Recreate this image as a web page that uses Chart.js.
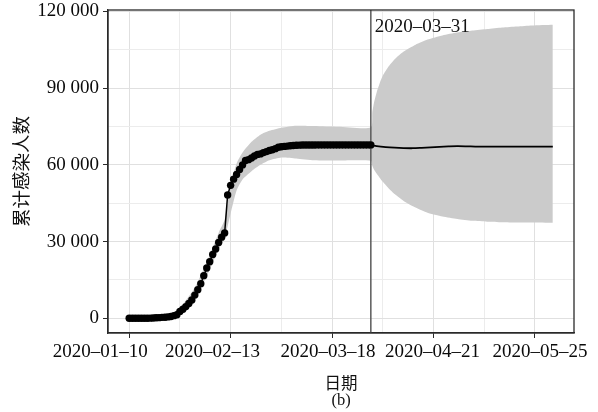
<!DOCTYPE html>
<html>
<head>
<meta charset="utf-8">
<script src="https://cdn.jsdelivr.net/npm/chart.js@4/dist/chart.umd.min.js"></script>
<style>
html,body{margin:0;padding:0;background:#fff;}
#wrap{width:598px;height:412px;}
</style>
</head>
<body>
<div id="wrap"><canvas id="c" width="598" height="412"></canvas></div>
<script>
// ---- data (x = days since 2020-01-10) ----
const startDate = '2020-01-10';
// observed cumulative infections, one value per day from 2020-01-10 to 2020-03-31
const obsCases = [
  41, 41, 41, 41, 41, 41, 45, 62, 121, 198,
  270, 375, 444, 549, 729, 1052, 1423, 2714, 3554, 4586,
  5806, 7153, 9074, 11177, 13522, 16678, 19665, 22112, 24953, 27100,
  29631, 31728, 33366, 48206, 51986, 54406, 56249, 58182, 59989, 61682,
  62031, 62662, 63454, 64084, 64287, 64786, 65187, 65596, 65914, 66337,
  66907, 67103, 67217, 67332, 67466, 67592, 67666, 67707, 67743, 67760,
  67773, 67781, 67786, 67790, 67794, 67798, 67799, 67799, 67800, 67800,
  67800, 67800, 67800, 67800, 67801, 67801, 67801, 67801, 67801, 67801,
  67801, 67802
];
// projected cumulative infections after 2020-03-31
const projDays  = [81, 83, 86, 89, 92, 95, 98, 101, 104, 107, 110, 113, 116, 120, 125, 130, 135, 142];
const projCases = [67802, 67350, 66950, 66700, 66550, 66500, 66650, 66850, 67050, 67200, 67300, 67250, 67150, 67100, 67100, 67100, 67100, 67100];
// uncertainty band
const bandDays = [0, 8, 14, 18, 22, 26, 30, 32, 34, 36, 38, 41, 44, 47, 51, 56, 62, 70, 81,
                  81.5, 82, 83, 84, 85, 87, 89, 92, 96, 100, 105, 110, 115, 120, 125, 130, 135, 142];
const bandLow  = [-100, -100, 200, 2800, 7800, 16500, 27000, 31500, 41000, 50000, 54300, 57500, 60000, 61800, 62900, 62500, 61800, 61700, 61600,
                  59600, 58300, 56500, 54900, 53400, 50800, 48600, 45900, 43300, 41300, 39800, 38800, 38100, 37800, 37600, 37500, 37500, 37400];
const bandHigh = [300, 400, 1500, 5500, 12000, 22000, 33500, 38500, 52000, 60500, 64800, 69000, 71800, 73300, 74500, 75300, 75200, 74900, 74600,
                  80500, 84000, 88500, 92000, 94800, 98500, 101300, 104300, 107000, 109000, 110600, 111700, 112500, 113100, 113700, 114100, 114500, 114800];
// cutoff date marker
const cutoffDay = 81;
const cutoffLabel = '2020–03–31';
const cutoffLabelValue = 113900;
// axes
const xTickDays = [0, 34, 68, 102, 136];
const xTickLabels = ['2020–01–10', '2020–02–13', '2020–03–18', '2020–04–21', '2020–05–25'];
const xMinorDays = [17, 51, 85, 119];
const yTickValues = [0, 30000, 60000, 90000, 120000];
const yTickLabels = ['0', '30 000', '60 000', '90 000', '120 000'];
const yMinorValues = [15000, 45000, 75000, 105000];
const xMin = -7.1, xMax = 149.1;
const yMin = -5740, yMax = 120540;
const yTitle = '累计感染人数';
const xTitle = ['日期', '(b)'];

// ---- layout-only constants ----
const xLabelNudge = [-29, -18, -4, -1, 5];   // horizontal label offsets seen in the original typesetting

// ---- build ----
const obsPts = obsCases.map((v, i) => ({x: i, y: v}));
const projPts = projDays.map((d, i) => ({x: d, y: projCases[i]}));
const hiPts = bandDays.map((d, i) => ({x: d, y: bandHigh[i]}));
const loPts = bandDays.map((d, i) => ({x: d, y: bandLow[i]}));
const vPts = [{x: cutoffDay, y: yMin}, {x: cutoffDay, y: yMax}];

const xMajor = new Set(xTickDays);
const yMajor = new Set(yTickValues);
const serif = "'Liberation Serif', 'Times New Roman', 'Noto Sans CJK SC', serif";

const framePlugin = {
  id: 'frame',
  beforeDraw(chart) {
    const items = chart.scales.x.getLabelItems();
    items.forEach(it => {
      const k = xTickLabels.indexOf(it.label);
      if (k >= 0 && !it._nudged) {
        it.options.translation[0] += xLabelNudge[k];
        it._nudged = true;
      }
    });
  },
  afterDraw(chart) {
    const {ctx, chartArea: a, scales} = chart;
    ctx.save();
    ctx.strokeStyle = '#2a2a2a';
    ctx.lineWidth = 1.3;
    ctx.strokeRect(a.left, a.top, a.right - a.left, a.bottom - a.top);
    ctx.fillStyle = '#111';
    ctx.font = "19px " + serif;
    ctx.textAlign = 'left';
    ctx.textBaseline = 'middle';
    ctx.fillText(cutoffLabel, scales.x.getPixelForValue(cutoffDay) + 4, scales.y.getPixelForValue(cutoffLabelValue));
    ctx.restore();
  }
};

new Chart(document.getElementById('c'), {
  type: 'line',
  data: {
    datasets: [
      {data: obsPts, borderColor: '#000', borderWidth: 1.5, pointRadius: 3.7, pointBackgroundColor: '#000',
       pointBorderWidth: 0, tension: 0, order: 0},
      {data: projPts, borderColor: '#000', borderWidth: 1.8, pointRadius: 0, tension: 0.3, order: 1},
      {data: vPts, borderColor: '#5a5a5a', borderWidth: 1.5, pointRadius: 0, order: 2},
      {data: hiPts, borderWidth: 0, borderColor: 'rgba(0,0,0,0)', pointRadius: 0, tension: 0.2,
       backgroundColor: '#cbcbcb', fill: '+1', order: 3},
      {data: loPts, borderWidth: 0, borderColor: 'rgba(0,0,0,0)', pointRadius: 0, tension: 0.2, fill: false, order: 4}
    ]
  },
  options: {
    responsive: false,
    animation: false,
    devicePixelRatio: 1,
    layout: {padding: {top: 10, right: 24, left: 0, bottom: 0}},
    plugins: {legend: {display: false}, tooltip: {enabled: false}},
    scales: {
      x: {
        type: 'linear', min: xMin, max: xMax,
        afterBuildTicks: ax => { ax.ticks = [...xTickDays, ...xMinorDays].sort((a, b) => a - b).map(v => ({value: v})); },
        afterFit: s => { s.height = 79; s.paddingLeft = 0; s.paddingRight = 0; },
        ticks: {
          autoSkip: false, maxRotation: 0, padding: 3, color: '#0a0a0a',
          font: {family: serif, size: 19},
          callback: v => xMajor.has(v) ? xTickLabels[xTickDays.indexOf(v)] : ''
        },
        grid: {
          color: c => (c.tick && xMajor.has(c.tick.value)) ? '#e0e0e0' : '#ececec',
          lineWidth: 1, tickLength: 5,
          tickColor: c => (c.tick && xMajor.has(c.tick.value)) ? '#2a2a2a' : 'rgba(0,0,0,0)'
        },
        border: {display: true, color: '#2a2a2a', width: 1.3},
        title: {display: true, text: xTitle, color: '#111', font: {family: serif, size: 16.5, lineHeight: 0.97},
                padding: {top: 0, bottom: 3}}
      },
      y: {
        type: 'linear', min: yMin, max: yMax,
        afterBuildTicks: ax => { ax.ticks = [...yTickValues, ...yMinorValues].sort((a, b) => a - b).map(v => ({value: v})); },
        afterFit: s => { s.width = 108; s.paddingTop = 0; s.paddingBottom = 0; },
        ticks: {
          autoSkip: false, padding: 4, color: '#0a0a0a',
          font: {family: serif, size: 19},
          callback: v => yMajor.has(v) ? yTickLabels[yTickValues.indexOf(v)] : ''
        },
        grid: {
          color: c => (c.tick && yMajor.has(c.tick.value)) ? '#e0e0e0' : '#ececec',
          lineWidth: 1, tickLength: 5,
          tickColor: c => (c.tick && yMajor.has(c.tick.value)) ? '#2a2a2a' : 'rgba(0,0,0,0)'
        },
        border: {display: true, color: '#2a2a2a', width: 1.3},
        title: {display: true, text: yTitle, color: '#111', font: {family: "'Noto Sans CJK SC', sans-serif", size: 18.5},
                padding: {top: 10, bottom: 0}}
      }
    }
  },
  plugins: [framePlugin]
});
</script>
</body>
</html>
